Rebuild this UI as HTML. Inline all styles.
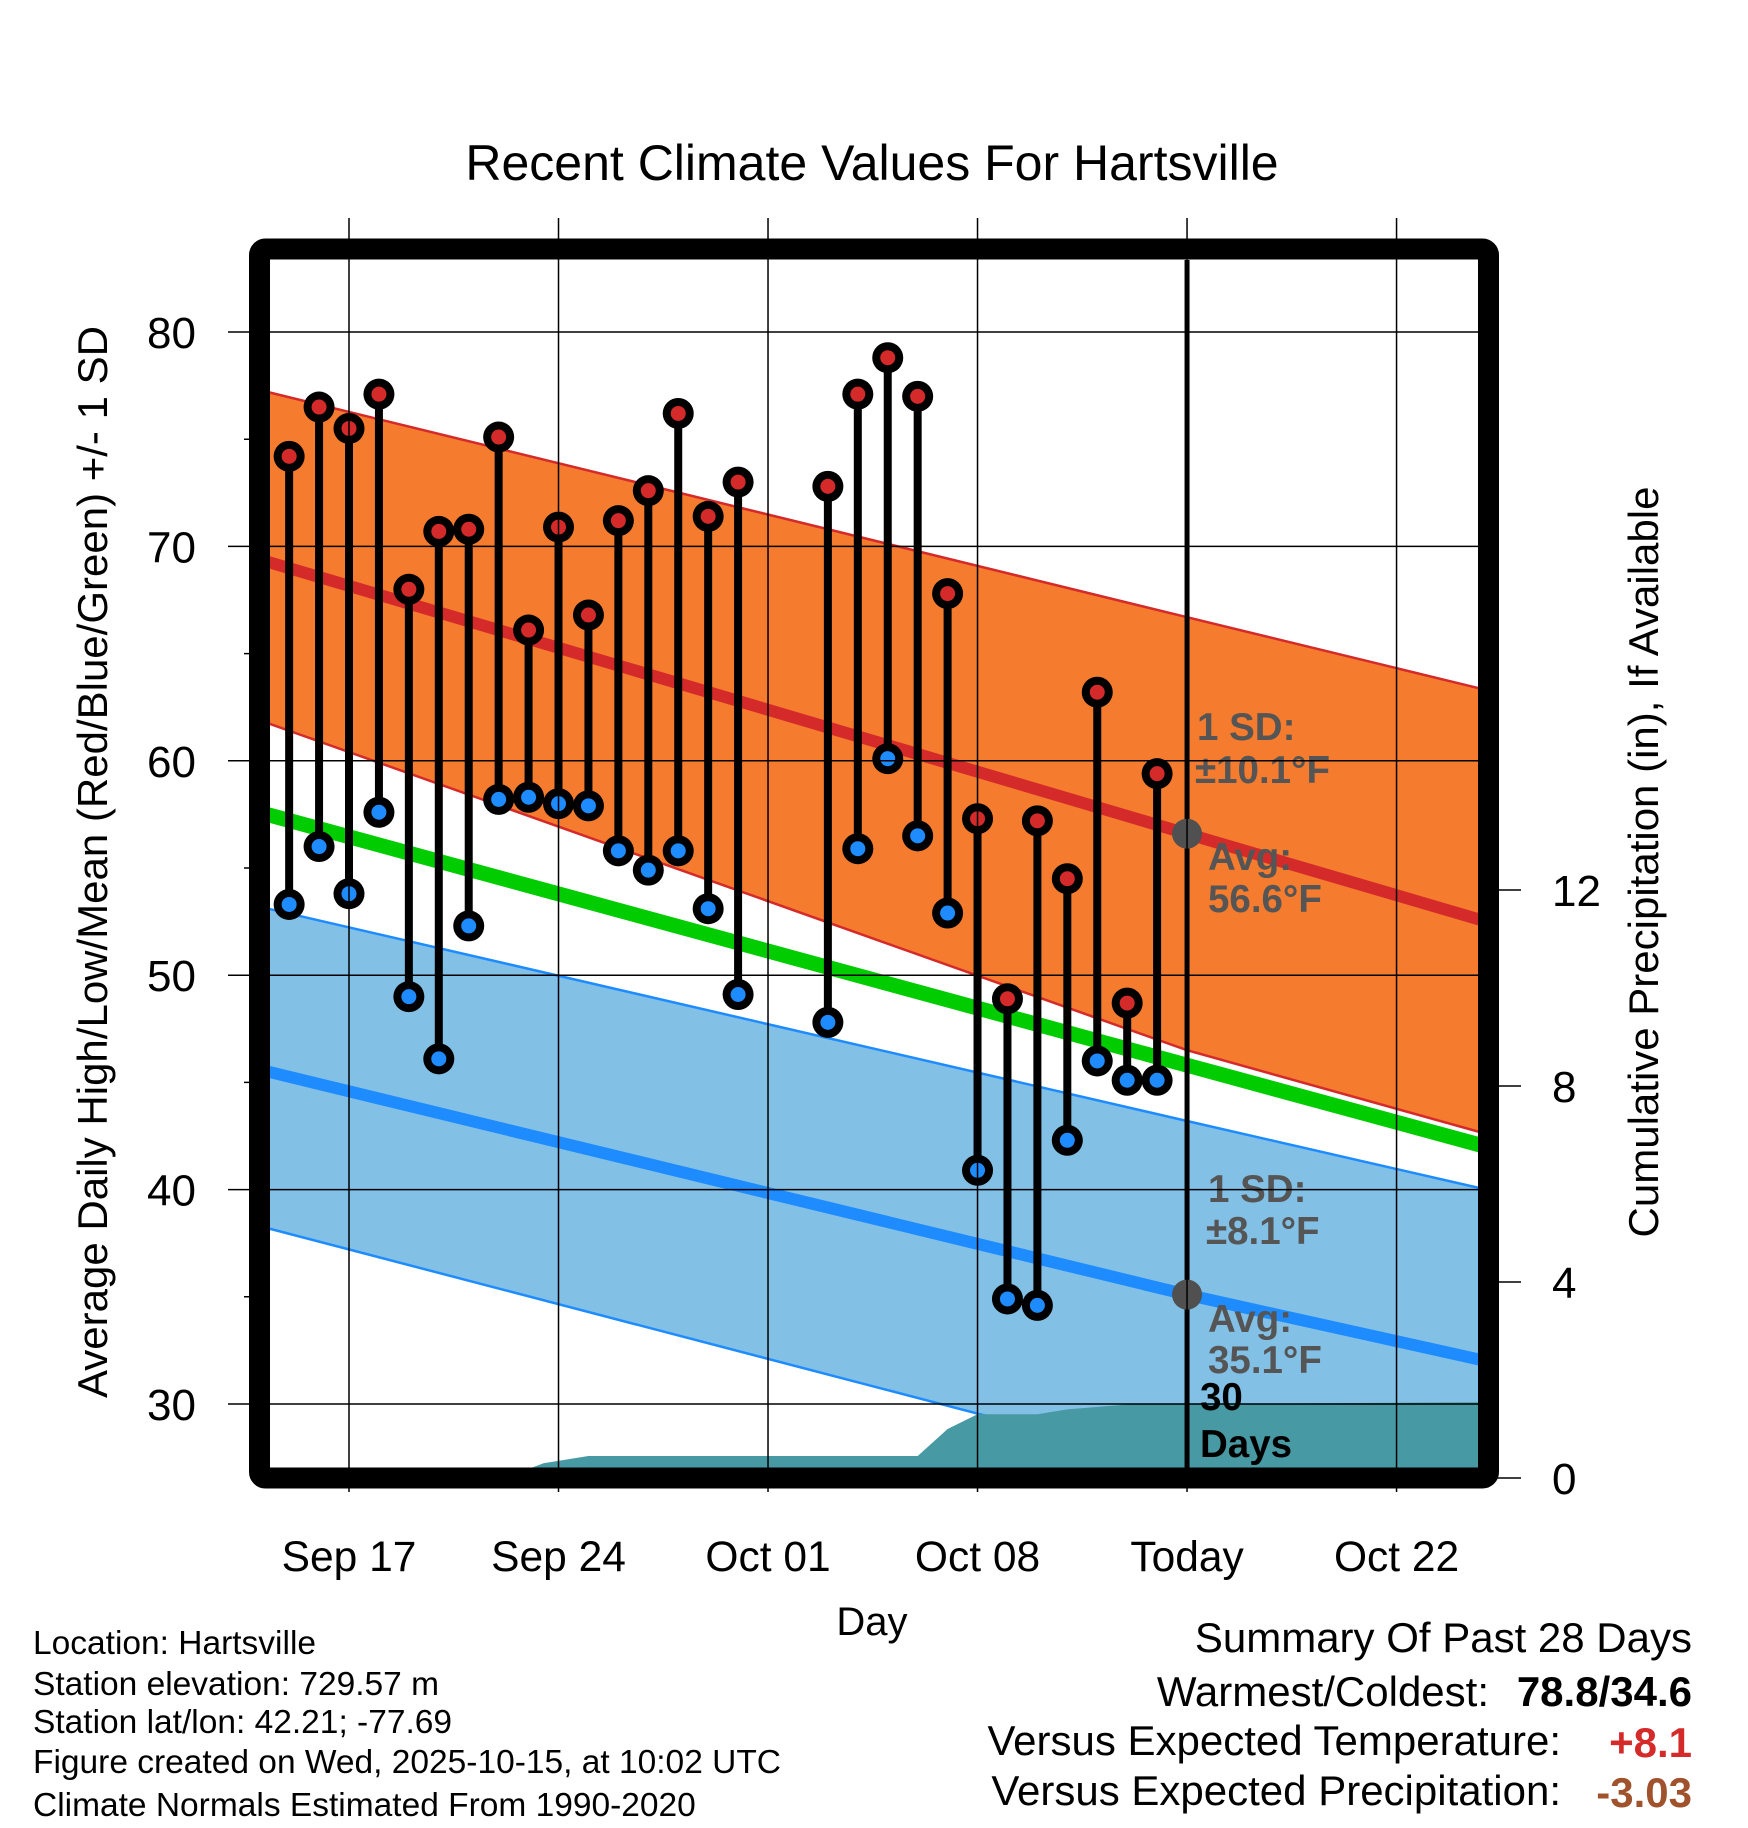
<!DOCTYPE html>
<html><head><meta charset="utf-8"><style>
html,body{margin:0;padding:0;background:#fff}
svg{display:block;font-family:"Liberation Sans",sans-serif}
</style></head><body>
<svg id="chart" width="1748" height="1828" viewBox="0 0 1748 1828" xmlns="http://www.w3.org/2000/svg">
<defs><clipPath id="plotclip"><rect x="270" y="260" width="1208" height="1208"/></clipPath></defs>
<g id="plot" clip-path="url(#plotclip)"></g>
<g id="axes"></g>
<rect x="259.5" y="249" width="1229" height="1229" rx="6" fill="none" stroke="#000" stroke-width="21" stroke-linejoin="round"/>
<text x="872" y="180" font-size="50" text-anchor="middle">Recent Climate Values For Hartsville</text>
<text transform="translate(107,862) rotate(-90)" font-size="42" text-anchor="middle">Average Daily High/Low/Mean (Red/Blue/Green) +/- 1 SD</text>
<text transform="translate(1658,862) rotate(-90)" font-size="42" text-anchor="middle">Cumulative Precipitation (in), If Available</text>
<text x="872" y="1635" font-size="40" text-anchor="middle">Day</text>
<g font-size="33.5">
<text x="33" y="1654">Location: Hartsville</text>
<text x="33" y="1695">Station elevation: 729.57 m</text>
<text x="33" y="1733">Station lat/lon: 42.21; -77.69</text>
<text x="33" y="1773">Figure created on Wed, 2025-10-15, at 10:02 UTC</text>
<text x="33" y="1816">Climate Normals Estimated From 1990-2020</text>
</g>
<g font-size="42">
<text x="1692" y="1652" text-anchor="end">Summary Of Past 28 Days</text>
<text x="1489" y="1706" text-anchor="end">Warmest/Coldest:</text>
<text x="1692" y="1706" text-anchor="end" font-weight="bold">78.8/34.6</text>
<text x="1561" y="1755" text-anchor="end">Versus Expected Temperature:</text>
<text x="1692" y="1757" text-anchor="end" font-weight="bold" fill="#d42a2a">+8.1</text>
<text x="1561" y="1805" text-anchor="end">Versus Expected Precipitation:</text>
<text x="1692" y="1807" text-anchor="end" font-weight="bold" fill="#a0522d">-3.03</text>
</g>
</svg>
<script>
// day numbers counted from Sep 1 (Sep 15 = 15, Oct 1 = 31, Oct 15 = 45)
const obsDays = [15,16,17,18,19,20,21,22,23,24,25,26,27,28,29,30,33,34,35,36,37,38,39,40,41,42,43,44];
const highs = [74.2,76.5,75.5,77.1,68.0,70.7,70.8,75.1,66.1,70.9,66.8,71.2,72.6,76.2,71.4,73.0,72.8,77.1,78.8,77.0,67.8,57.3,48.9,57.2,54.5,63.2,48.7,59.4];
const lows = [53.3,56.0,53.8,57.6,49.0,46.1,52.3,58.2,58.3,58.0,57.9,55.8,54.9,55.8,53.1,49.1,47.8,55.9,60.1,56.5,52.9,40.9,34.9,34.6,42.3,46.0,45.1,45.1];
const normDays = [14,45,55];
const normHigh = [69.4,56.6,52.5];
const normHighUp = [77.3,66.7,63.3];
const normHighLo = [61.9,46.5,42.6];
const normMean = [57.6,45.8,42.0];
const normLow = [45.6,35.1,32.0];
const normLowUp = [53.2,43.2,40.0];
const normLowLo = [38.3,27.0,24.0];
const precipDays = [14,22.2,23.5,25,36,37,38,40,41,43,56];
const precipVals = [0,0,0.3,0.45,0.45,1.0,1.3,1.3,1.4,1.5,1.55];
const xTickDays = [17,24,31,38,45,52];
const xTickLabels = ["Sep 17","Sep 24","Oct 01","Oct 08","Today","Oct 22"];
const yTicks = [30,40,50,60,70,80];
const yMinor = [35,45,55,65,75];
const pTicks = [0,4,8,12];
const todayDay = 45;

const NS = "http://www.w3.org/2000/svg";
const X = d => 349 + (d - 17) * 29.93;
const Y = t => 332 + (80 - t) * 21.44;
const P = p => 1478 - p * 49;
function mk(tag, attrs, parent){const e=document.createElementNS(NS,tag);for(const k in attrs)e.setAttribute(k,attrs[k]);parent.appendChild(e);return e;}
const plot = document.getElementById('plot');
const axes = document.getElementById('axes');
const pts = (ds, vs, f) => ds.map((d,i)=>X(d).toFixed(1)+','+f(vs[i]).toFixed(1));

function band(up, lo, fill, edge, name){
  const p = mk('polygon',{points: pts(normDays,up,Y).concat(pts(normDays,lo,Y).reverse()).join(' '), fill: fill}, plot);
  
  
  [up, lo].forEach((arr, j) => {
    const l = mk('polyline',{points: pts(normDays,arr,Y).join(' '), fill:'none', stroke:edge, 'stroke-width':2.5}, plot);
    
    
  });
}
band(normHighUp, normHighLo, '#f57b2e', '#d42a2a', 'high-sd');
band(normLowUp, normLowLo, '#82c0e6', '#1e8cff', 'low-sd');

const pp = pts(precipDays, precipVals, P);
const pa = mk('polygon',{points: [X(precipDays[0]).toFixed(1)+','+P(0)].concat(pp, [X(precipDays[precipDays.length-1]).toFixed(1)+','+P(0)]).join(' '), fill:'#479aa3'}, plot);



function nline(arr, color, w, name){
  const l = mk('polyline',{points: pts(normDays,arr,Y).join(' '), fill:'none', stroke:color, 'stroke-width':w}, plot);
  
  
}
nline(normMean, '#00cc00', 15, 'normal-mean-line');
nline(normHigh, '#d42a2a', 12, 'normal-high-line');
nline(normLow, '#1e8cff', 12, 'normal-low-line');

xTickDays.forEach((d,i)=>{
  const g = mk('line',{x1:X(d),x2:X(d),y1:218,y2:1492,stroke:'#000','stroke-width':1.5}, axes);
  
  
  const t = mk('text',{x:X(d),y:1571,'font-size':42.5,'text-anchor':'middle'}, axes);
  t.textContent = xTickLabels[i];
  
  
});
yTicks.forEach(v=>{
  const g = mk('line',{x1:228,x2:1488,y1:Y(v),y2:Y(v),stroke:'#000','stroke-width':1.5}, axes);
  
  
  const t = mk('text',{x:196,y:Y(v)+16,'font-size':44,'text-anchor':'end'}, axes);
  t.textContent = v;
  
  
});
yMinor.forEach(v=>{
  const g = mk('line',{x1:244,x2:262,y1:Y(v),y2:Y(v),stroke:'#000','stroke-width':1.5}, axes);
  
  
});
pTicks.forEach(v=>{
  const g = mk('line',{x1:1488,x2:1521,y1:P(v),y2:P(v),stroke:'#000','stroke-width':1.5}, axes);
  
  
  const t = mk('text',{x:1552,y:P(v)+16,'font-size':44}, axes);
  t.textContent = v;
  
  
});

const tl = mk('line',{x1:X(todayDay),x2:X(todayDay),y1:255,y2:1470,stroke:'#000','stroke-width':5}, plot);



obsDays.forEach((d,i)=>{
  const x = X(d);
  const s = mk('line',{x1:x,x2:x,y1:Y(highs[i]),y2:Y(lows[i]),stroke:'#000','stroke-width':8}, plot);
  
  
  [[highs[i],'#d42a2a','daily-high-point'],[lows[i],'#1e8cff','daily-low-point']].forEach(([v,c,n])=>{
    const o = mk('circle',{cx:x,cy:Y(v),r:15.5,fill:'#000'}, plot);
    
    
    const c2 = mk('circle',{cx:x,cy:Y(v),r:7.5,fill:c}, plot);
    
    
  });
});

[normHigh[1], normLow[1]].forEach((v,i)=>{
  const c = mk('circle',{cx:X(todayDay),cy:Y(v),r:15,fill:'#505050'}, plot);
  
  
});

const ann = [
  [1197,740,'1 SD:','#555','high-sd-label'],
  [1195,783,'±10.1°F','#555','high-sd-value'],
  [1208,870,'Avg:','#555','high-avg-label'],
  [1208,912,'56.6°F','#555','high-avg-value'],
  [1208,1202,'1 SD:','#555','low-sd-label'],
  [1206,1244,'±8.1°F','#555','low-sd-value'],
  [1208,1332,'Avg:','#555','low-avg-label'],
  [1208,1373,'35.1°F','#555','low-avg-value'],
  [1200,1410,'30','#000','days-count-label'],
  [1200,1457,'Days','#000','days-text-label']
];
ann.forEach(a=>{
  const t = mk('text',{x:a[0],y:a[1],'font-size':38.5,'font-weight':'bold',fill:a[3]}, plot);
  t.textContent = a[2];
  
  
});
</script>
</body></html>
